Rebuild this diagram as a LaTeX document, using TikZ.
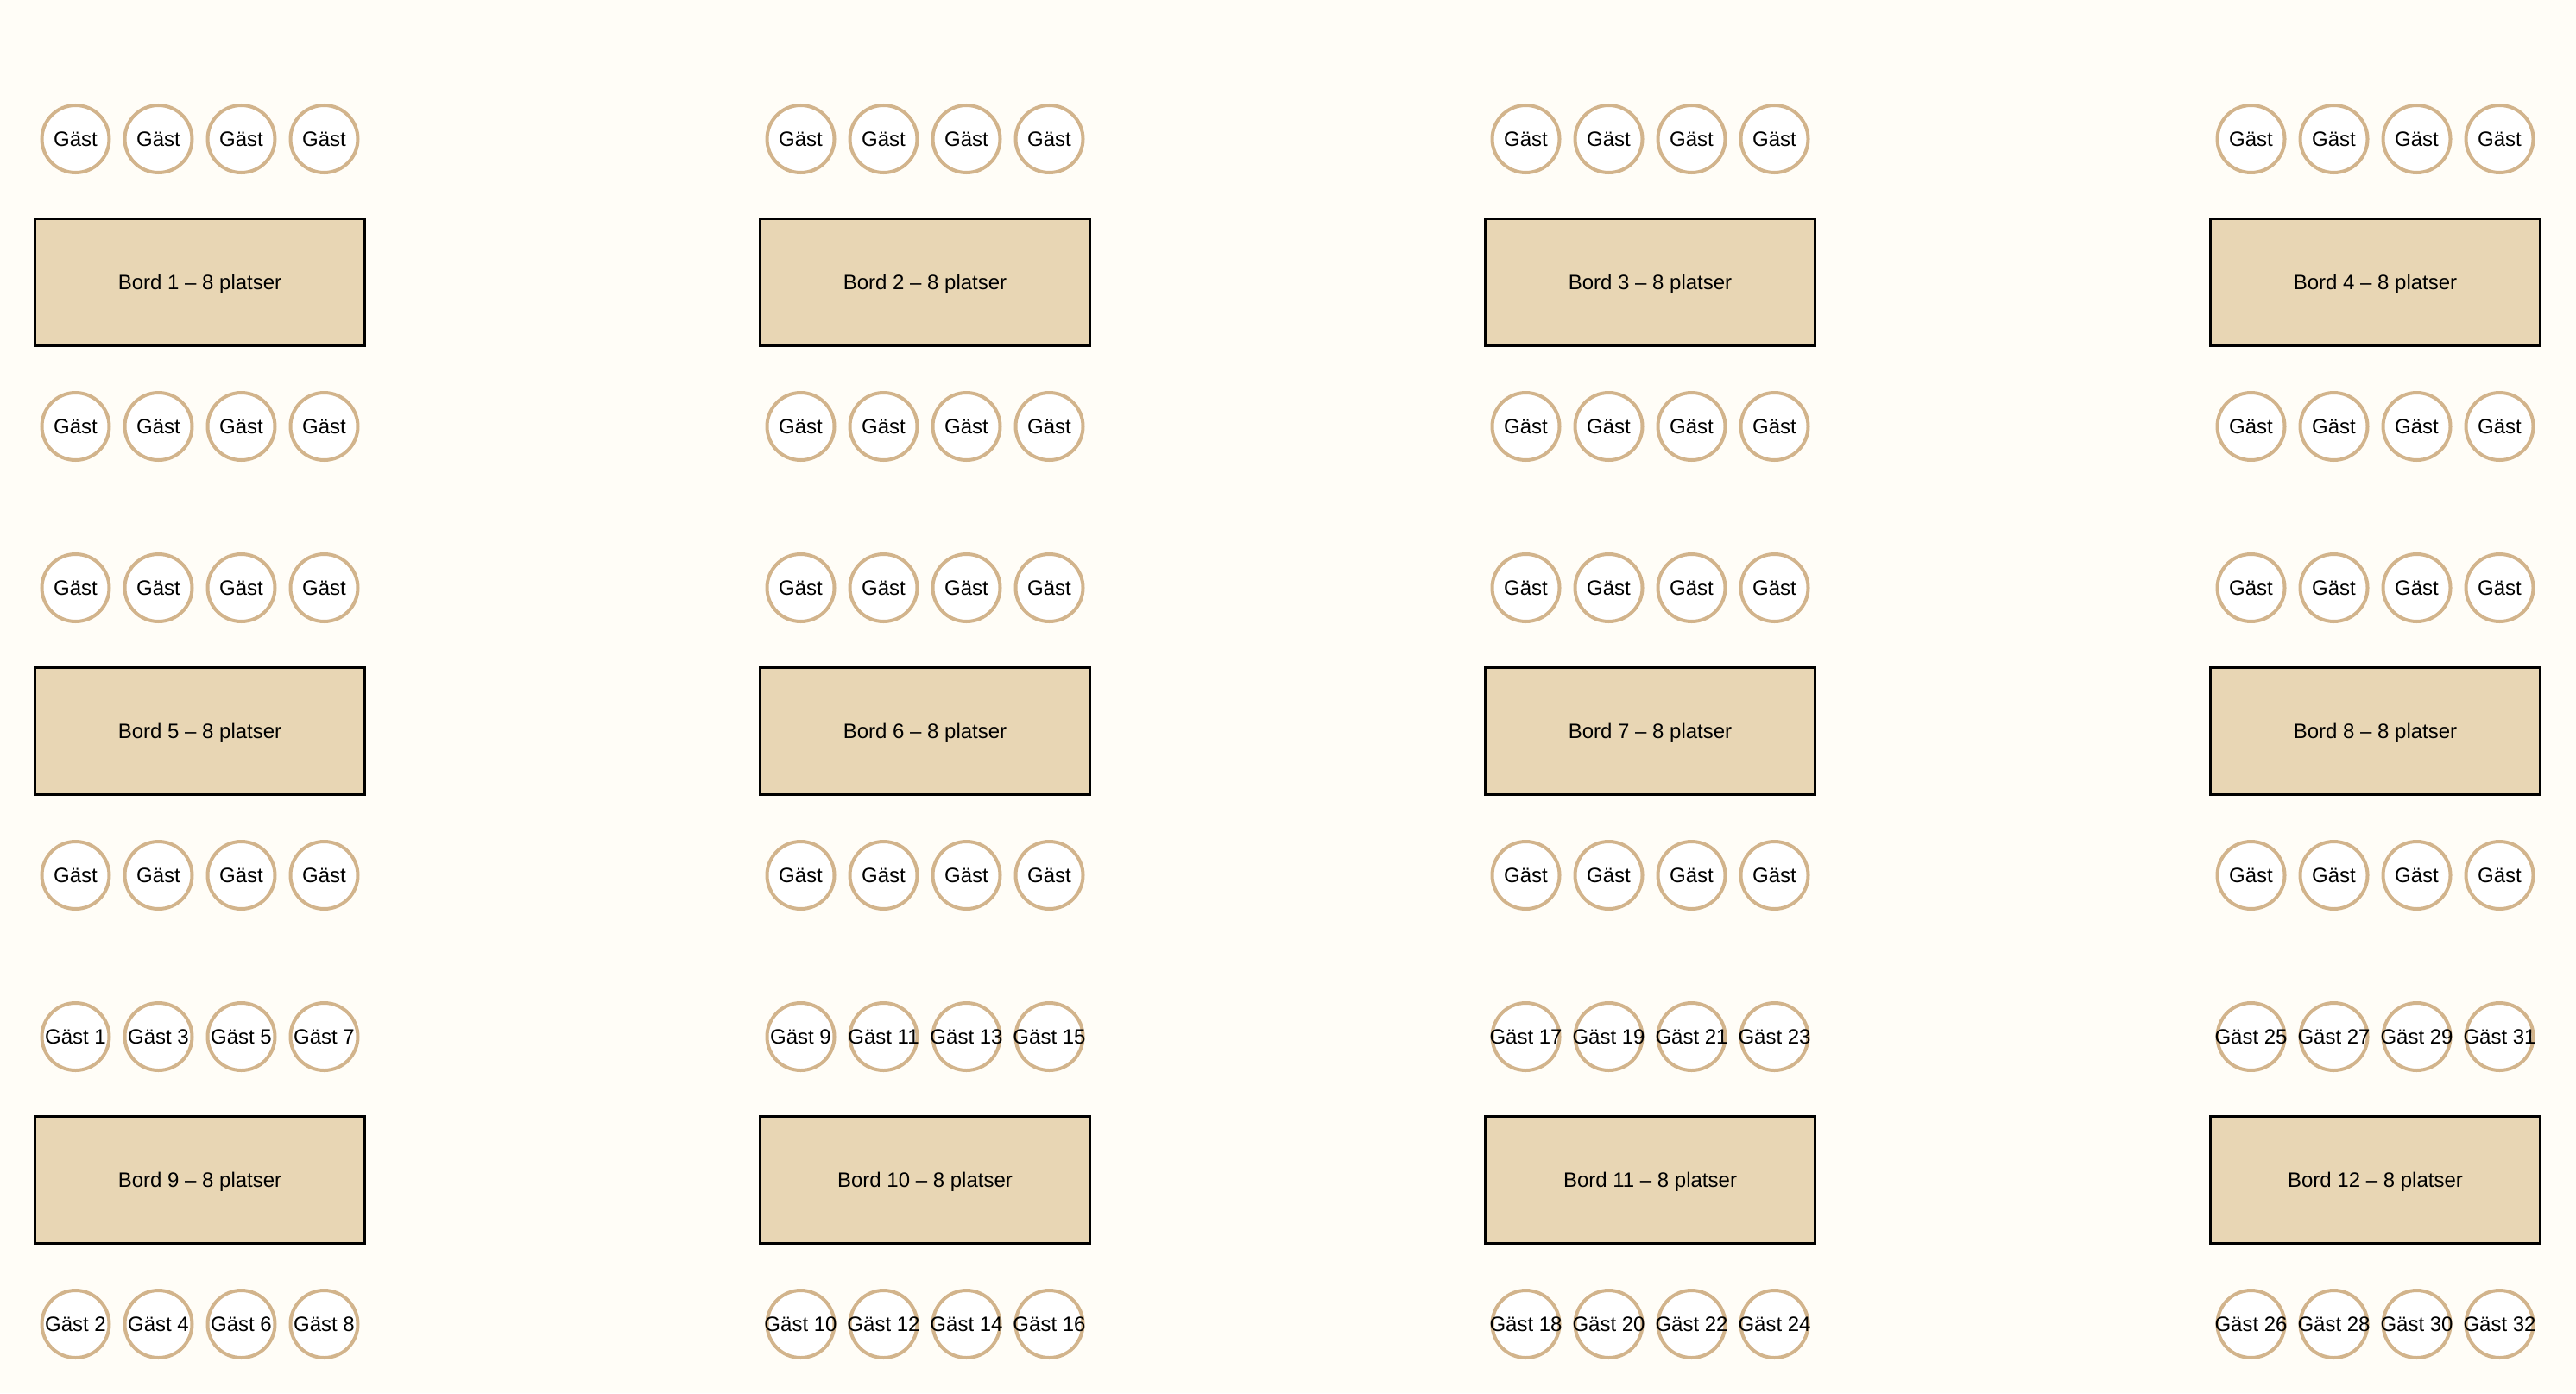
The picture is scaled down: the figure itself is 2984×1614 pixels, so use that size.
\documentclass[tikz,border=0pt]{standalone}
\usepackage{fontspec}
\setmainfont{Liberation Sans}
\usetikzlibrary{calc}

\definecolor{bakgrund}{HTML}{FFFDF7}
\definecolor{bordfarg}{HTML}{E8D6B4}
\definecolor{gastkant}{HTML}{D2B48C}

\tikzset{
    bord/.style={draw=black, line width=3pt, fill=bordfarg, minimum width=382pt,
        minimum height=147pt, inner sep=0pt, text depth=0pt,
        font=\fontsize{24}{28}\selectfont},
    gast/.style={circle, draw=gastkant, line width=4pt, fill=white, minimum size=78pt,
        inner sep=0pt, text depth=0pt, font=\fontsize{24}{28}\selectfont}
}

\begin{document}
\begin{tikzpicture}[x=1pt, y=-1pt]
    % Background
    \fill[bakgrund] (0,0) rectangle (2984,1614);
    \useasboundingbox (0,0) rectangle (2984,1614);

    % Tables: 3 rows, 4 columns
    \foreach \r in {0,1,2} {
        \foreach \c in {0,...,3} {
            \pgfmathtruncatemacro\nr{4*\r+\c+1}
            \node[bord] (bord\nr) at ({231.5+840*\c},{327+520*\r}) {Bord \nr{} – 8 platser};
            % Guests above and below the table (text may overflow the circle)
            \foreach \k in {0,...,3} {
                \pgfmathsetmacro\dx{-144+96*\k}
                \pgfmathtruncatemacro\ovre{8*\c+2*\k+1}
                \pgfmathtruncatemacro\nedre{8*\c+2*\k+2}
                \node[gast] (gast\nr-o\k) at ($(bord\nr)+(\dx,-166)$)
                    {\makebox[0pt]{\ifnum\r=2 Gäst \ovre\else Gäst\fi}};
                \node[gast] (gast\nr-n\k) at ($(bord\nr)+(\dx,167)$)
                    {\makebox[0pt]{\ifnum\r=2 Gäst \nedre\else Gäst\fi}};
            }
        }
    }
\end{tikzpicture}
\end{document}
